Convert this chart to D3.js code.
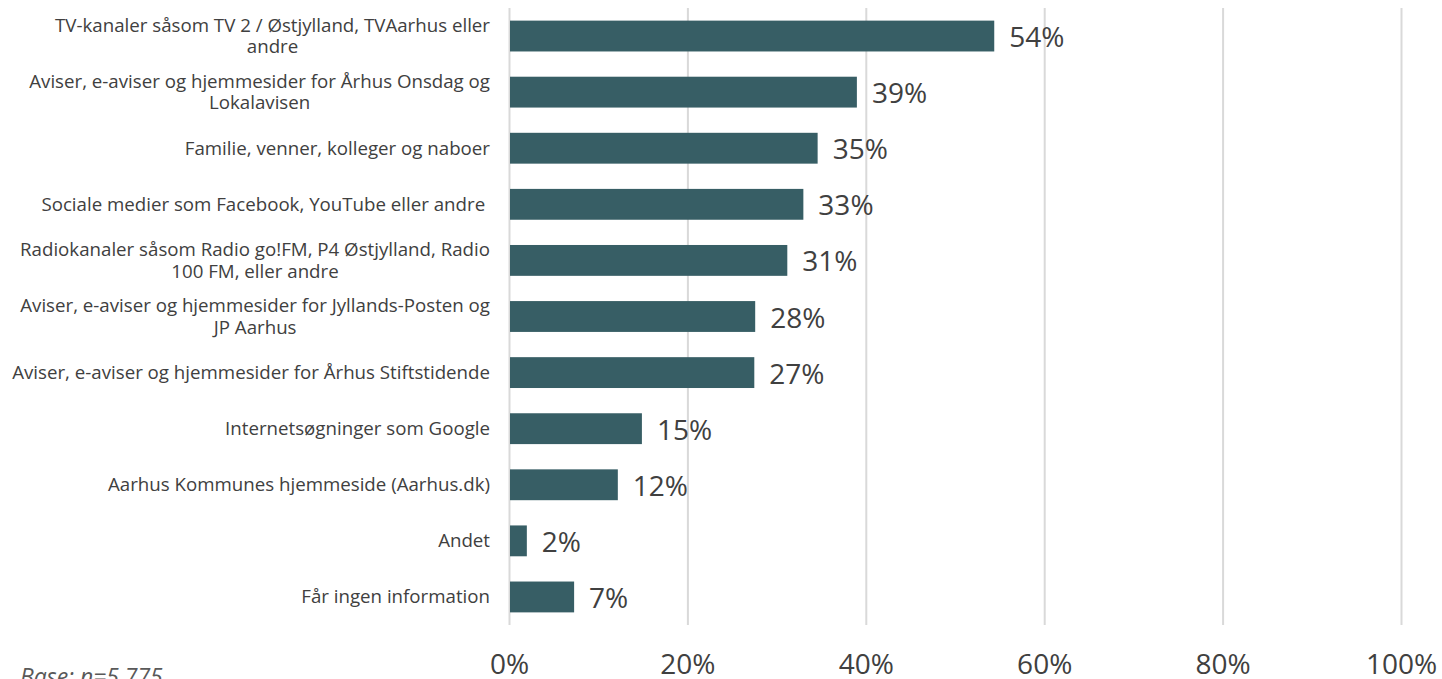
<!DOCTYPE html>
<html>
<head>
<meta charset="utf-8">
<script src="https://cdn.jsdelivr.net/npm/d3@7/dist/d3.min.js"></script>
<style>
  html, body { margin: 0; padding: 0; background: #ffffff; }
  svg { display: block; }
  text { font-family: "Open Sans", Lato, "Noto Sans", sans-serif; }
</style>
</head>
<body>
<svg id="chart" width="1442" height="679"></svg>
<script>
// ---- data ----
const categories = [
  ["TV-kanaler såsom TV 2 / Østjylland, TVAarhus eller", "andre"],
  ["Aviser, e-aviser og hjemmesider for Århus Onsdag og", "Lokalavisen"],
  ["Familie, venner, kolleger og naboer"],
  ["Sociale medier som Facebook, YouTube eller andre "],
  ["Radiokanaler såsom Radio go!FM, P4 Østjylland, Radio", "100 FM, eller andre"],
  ["Aviser, e-aviser og hjemmesider for Jyllands-Posten og", "JP Aarhus"],
  ["Aviser, e-aviser og hjemmesider for Århus Stiftstidende"],
  ["Internetsøgninger som Google"],
  ["Aarhus Kommunes hjemmeside (Aarhus.dk)"],
  ["Andet"],
  ["Får ingen information"]
];
const values = [0.544, 0.390, 0.346, 0.330, 0.312, 0.276, 0.275, 0.149, 0.122, 0.020, 0.073];
const valueLabels = ["54%", "39%", "35%", "33%", "31%", "28%", "27%", "15%", "12%", "2%", "7%"];
const tickValues = [0, 0.2, 0.4, 0.6, 0.8, 1.0];
const tickLabels = ["0%", "20%", "40%", "60%", "80%", "100%"];
const baseNote = "Base: n=5.775";

// ---- layout ----
const svg = d3.select("#chart");
const textColor = "#404040";
const barColor = "#375e65";
const gridColor = "#d9d9d9";

const x = d3.scaleLinear().domain([0, 1]).range([509, 1401]);
const idx = d3.range(categories.length);
const y = d3.scaleBand().domain(idx).range([8, 625]).paddingInner(0.45).paddingOuter(0.225);

// gridlines + tick labels through axis
const axis = d3.axisBottom(x)
  .tickValues(tickValues)
  .tickFormat((d, i) => tickLabels[i])
  .tickSize(-(625 - 8))
  .tickPadding(0);

const gAxis = svg.append("g").attr("transform", "translate(0,625)").call(axis);
gAxis.select(".domain").remove();
gAxis.selectAll(".tick line").attr("stroke", gridColor).attr("stroke-width", 2);
gAxis.selectAll(".tick text")
  .attr("fill", textColor)
  .attr("font-size", 28)
  .attr("y", 49)
  .attr("dy", 0);

// bars
svg.append("g").selectAll("rect")
  .data(idx)
  .join("rect")
  .attr("x", x(0) + 1)
  .attr("y", i => y(i))
  .attr("width", i => x(values[i]) - x(0) - 1)
  .attr("height", y.bandwidth())
  .attr("fill", barColor);

// value labels
svg.append("g").selectAll("text")
  .data(idx)
  .join("text")
  .attr("x", i => x(values[i]) + 15)
  .attr("y", i => y(i) + y.bandwidth() / 2 + 11)
  .attr("fill", textColor)
  .attr("font-size", 28)
  .text(i => valueLabels[i]);

// category labels (right-aligned block, lines centered within block)
const lineH = 21.5;
const labelRight = 490;
const gCat = svg.append("g");
idx.forEach(i => {
  const lines = categories[i];
  const cy = y(i) + y.bandwidth() / 2;
  const g = gCat.append("g");
  const texts = lines.map((ln, k) => g.append("text")
    .attr("fill", textColor)
    .attr("font-size", 18.7)
    .attr("xml:space", "preserve")
    .attr("text-anchor", "middle")
    .attr("y", cy + (k - (lines.length - 1) / 2) * lineH + 6.5)
    .text(ln));
  const maxW = d3.max(texts, t => t.node().getComputedTextLength());
  texts.forEach(t => t.attr("x", labelRight - maxW / 2));
});

// base note
svg.append("text")
  .attr("x", 20)
  .attr("y", 685)
  .attr("fill", "#595959")
  .attr("font-size", 23)
  .attr("font-style", "italic")
  .text(baseNote);
</script>
</body>
</html>
